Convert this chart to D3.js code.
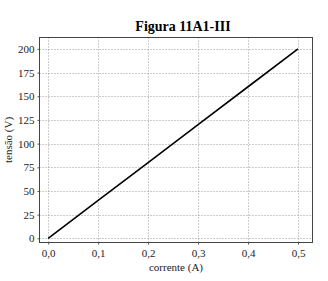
<!DOCTYPE html>
<html><head><meta charset="utf-8">
<script src="https://cdn.jsdelivr.net/npm/d3@7"></script>
<style>body{margin:0;background:#fff}svg{display:block}svg text{font-family:'Liberation Serif','Times New Roman',serif !important}</style>
</head><body>
<script>
const title = "Figura 11A1-III";
const xLabel = "corrente (A)";
const yLabel = "tensão (V)";
const corrente = [0, 0.1, 0.2, 0.3, 0.4, 0.5];
const tensao = [0, 40, 80, 120, 160, 200];
const xTicks = [0, 0.1, 0.2, 0.3, 0.4, 0.5];
const yTicks = [0, 25, 50, 75, 100, 125, 150, 175, 200];

const W = 328, H = 281;
const m = {l: 39.5, r: 312.5, t: 37.5, b: 242.5};
const svg = d3.select("body").append("svg").attr("width", W).attr("height", H);
const x = d3.scaleLinear().domain([-0.0174, 0.529]).range([m.l, m.r]);
const y = d3.scaleLinear().domain([-4.4, 212]).range([m.b, m.t]);

// grid
svg.append("g").selectAll("line").data(xTicks).join("line")
  .attr("x1", d => Math.round(x(d)) + 0.5).attr("x2", d => Math.round(x(d)) + 0.5)
  .attr("y1", m.t).attr("y2", m.b)
  .attr("stroke", "#9a9a9a").attr("stroke-width", 1).attr("stroke-dasharray", "1,2");
svg.append("g").selectAll("line").data(yTicks).join("line")
  .attr("y1", d => Math.round(y(d)) + 0.5).attr("y2", d => Math.round(y(d)) + 0.5)
  .attr("x1", m.l).attr("x2", m.r)
  .attr("stroke", "#9a9a9a").attr("stroke-width", 1).attr("stroke-dasharray", "1,2");

// axes
const fmt = d => d3.format(".1f")(d).replace(".", ",");
const xAxis = svg.append("g").attr("transform", `translate(0,${m.b})`)
  .call(d3.axisBottom(x).tickValues(xTicks).tickFormat(fmt).tickSize(2).tickSizeOuter(0).tickPadding(5));
const yAxis = svg.append("g").attr("transform", `translate(${m.l},0)`)
  .call(d3.axisLeft(y).tickValues(yTicks).tickSize(2).tickSizeOuter(0).tickPadding(3));
[xAxis, yAxis].forEach(a => {
  a.select(".domain").remove();
  a.attr("font-family", null);
  a.selectAll("text").attr("font-size", 11).attr("fill", "#222");
  a.selectAll("line").attr("stroke", "#555");
});

// frame
svg.append("rect").attr("x", m.l).attr("y", m.t).attr("width", m.r - m.l).attr("height", m.b - m.t)
  .attr("fill", "none").attr("stroke", "#444").attr("stroke-width", 1);

// line
svg.append("path").datum(corrente.map((c, i) => [c, tensao[i]]))
  .attr("d", d3.line().x(d => x(d[0])).y(d => y(d[1])))
  .attr("fill", "none").attr("stroke", "#000").attr("stroke-width", 1.6);

// labels
svg.append("text").attr("x", 183).attr("y", 31).attr("text-anchor", "middle")
  .attr("font-weight", "bold").attr("font-size", 14).text(title);
svg.append("text").attr("x", 176).attr("y", 271).attr("text-anchor", "middle")
  .attr("font-size", 11).attr("fill", "#222").text(xLabel);
svg.append("text").attr("transform", "translate(12,140) rotate(-90)").attr("text-anchor", "middle")
  .attr("font-size", 11).attr("fill", "#222").text(yLabel);
</script>
</body></html>
